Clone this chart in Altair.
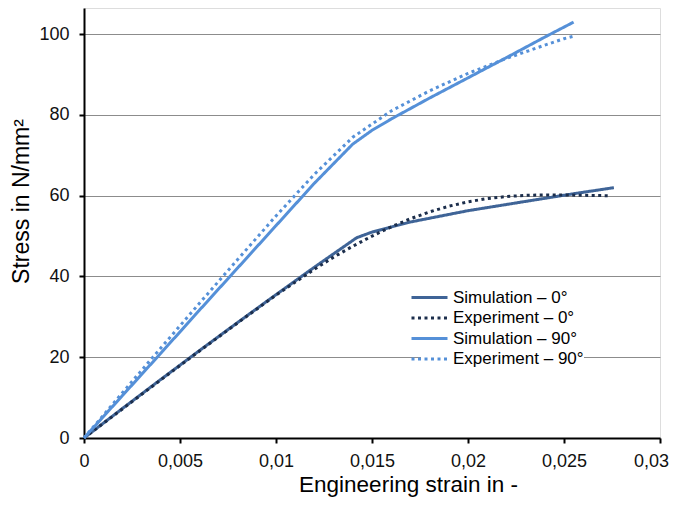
import altair as alt
import pandas as pd

series_names = ["Simulation – 0°", "Experiment – 0°", "Simulation – 90°", "Experiment – 90°"]

sim0_x = [0, 0.002, 0.004, 0.006, 0.008, 0.010, 0.012, 0.0142, 0.015, 0.017, 0.020, 0.023, 0.0255, 0.0276]
sim0_y = [0, 7.3, 14.5, 21.6, 28.6, 35.5, 42.3, 49.6, 51.0, 53.5, 56.3, 58.6, 60.5, 62.0]

exp0_x = [0, 0.002, 0.004, 0.006, 0.008, 0.010, 0.012, 0.013, 0.014, 0.015, 0.016, 0.017, 0.018,
          0.019, 0.020, 0.021, 0.022, 0.023, 0.024, 0.025, 0.026, 0.0274]
exp0_y = [0, 7.2, 14.4, 21.5, 28.5, 35.4, 41.8, 44.8, 47.5, 50.0, 52.3, 54.3, 56.0,
          57.4, 58.5, 59.3, 59.8, 60.1, 60.2, 60.2, 60.1, 60.0]

sim90_x = [0, 0.002, 0.004, 0.006, 0.008, 0.010, 0.012, 0.014, 0.015, 0.016, 0.018, 0.020, 0.022, 0.024, 0.0255]
sim90_y = [0, 10.5, 21.0, 31.6, 42.1, 52.6, 63.1, 72.8, 76.2, 79.0, 84.2, 89.2, 94.2, 99.3, 103.0]

exp90_x = [0, 0.002, 0.004, 0.006, 0.008, 0.010, 0.012, 0.014, 0.016, 0.018, 0.020, 0.022, 0.024, 0.025, 0.0255]
exp90_y = [0, 11.2, 22.3, 33.3, 44.2, 55.0, 65.3, 74.5, 81.0, 86.0, 90.3, 94.0, 97.3, 98.9, 99.5]

x_ticks = [0, 0.005, 0.01, 0.015, 0.02, 0.025, 0.03]
y_ticks = [0, 20, 40, 60, 80, 100]

rows = []
for name, xs, ys in zip(series_names, [sim0_x, exp0_x, sim90_x, exp90_x], [sim0_y, exp0_y, sim90_y, exp90_y]):
    for i, (a, b) in enumerate(zip(xs, ys)):
        rows.append({"series": name, "strain": a, "stress": b, "order": i})
df = pd.DataFrame(rows)

colors = ["#3F6497", "#1C2E4C", "#5590D8", "#5590D8"]
dashes = [[1, 0], [3, 3.5], [1, 0], [3, 3.5]]

FONT = "Liberation Sans"

chart = alt.Chart(df).mark_line(strokeWidth=3, strokeCap="butt").encode(
    x=alt.X("strain:Q", title="Engineering strain in -",
            scale=alt.Scale(domain=[0, 0.03], nice=False),
            axis=alt.Axis(values=x_ticks, labelExpr="replace(toString(datum.value), '.', ',')",
                          grid=False, domainColor="black", domainWidth=2, tickColor="black",
                          tickWidth=2, tickSize=5, labelFontSize=18, labelColor="#111",
                          labelFlush=False, labelOverlap=False,
                          labelOffset={"condition": {"test": "datum.value >= 0.029", "value": -9}, "value": 0},
                          titleFontSize=22.5, titleFontWeight="normal", titleColor="black",
                          titleX=324, labelPadding=9, titlePadding=3, labelFont=FONT, titleFont=FONT)),
    y=alt.Y("stress:Q", title="Stress in N/mm²",
            scale=alt.Scale(domain=[0, 106.5], nice=False),
            axis=alt.Axis(values=y_ticks, grid=True, gridColor="#8c8c8c", gridWidth=1,
                          domainColor="black", domainWidth=2, tickColor="black", tickWidth=2,
                          tickSize=5, labelFontSize=18, labelColor="#111", titleFontSize=23,
                          labelFlush=False, labelOverlap=False,
                          titleFontWeight="normal", titleColor="black", labelPadding=10,
                          titlePadding=5, titleY=193, labelFont=FONT, titleFont=FONT)),
    color=alt.Color("series:N", sort=series_names, title=None,
                    scale=alt.Scale(domain=series_names, range=colors),
                    legend=alt.Legend(orient="none", legendX=337, legendY=281, fillColor="white",
                                      padding=0, symbolType="M-3,0H3", symbolSize=144,
                                      symbolStrokeWidth=3, labelFontSize=17, labelColor="black",
                                      labelFont=FONT, rowPadding=2.5, labelOffset=15)),
    strokeDash=alt.StrokeDash("series:N", sort=series_names, title=None,
                              scale=alt.Scale(domain=series_names, range=dashes), legend=None),
    order="order:Q",
).properties(
    width=576, height=430,
    autosize=alt.AutoSizeParams(type="none"),
    padding={"left": 76, "top": 0, "right": 10, "bottom": 59},
).configure_view(stroke=None).configure(background="white")

chart.save("out.html", embed_options={"renderer": "svg", "actions": False})
